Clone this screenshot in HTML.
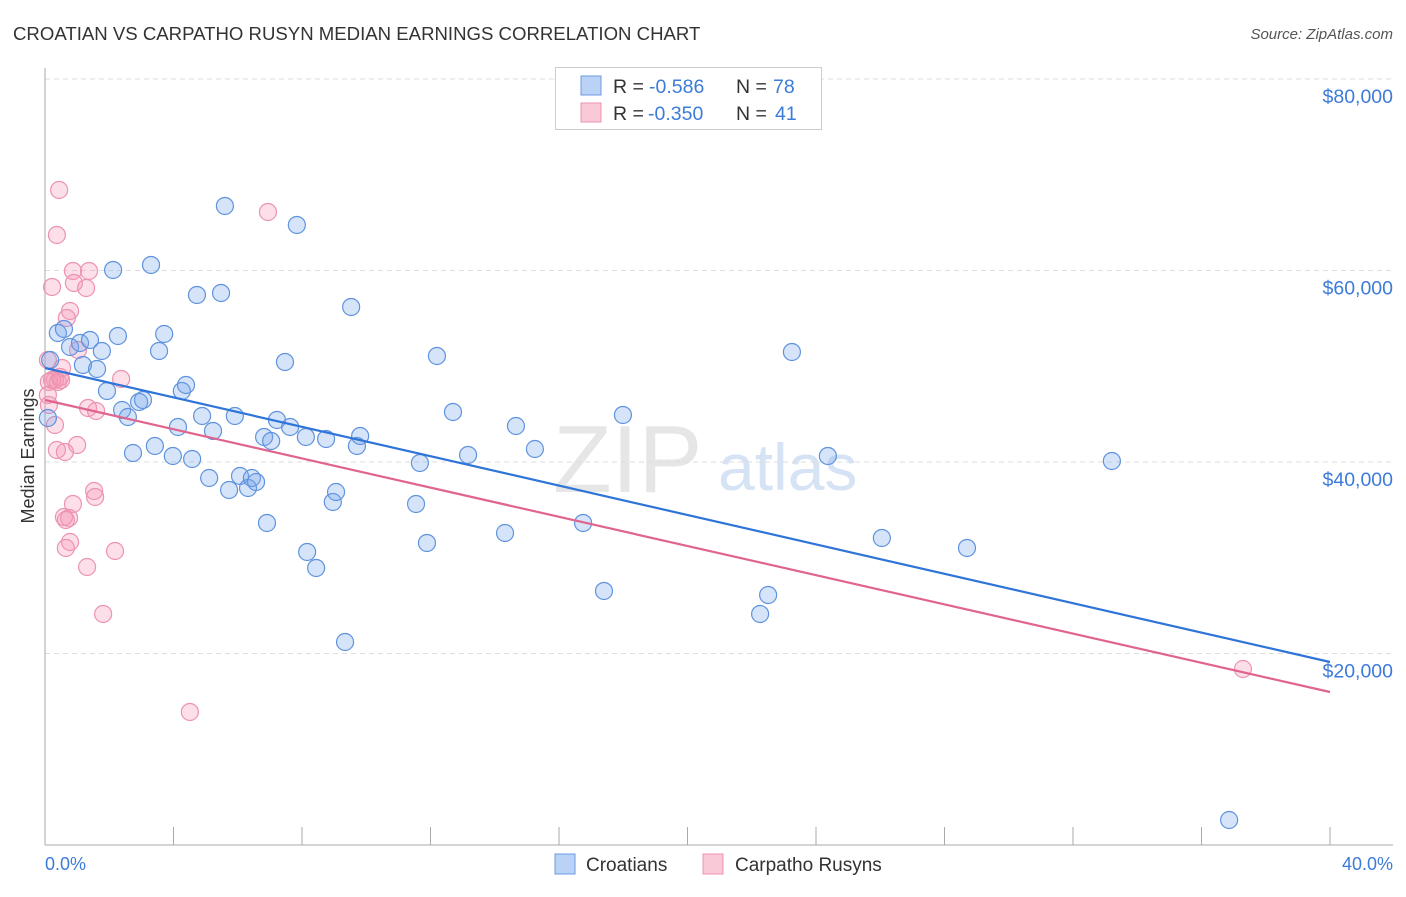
<!DOCTYPE html>
<html><head><meta charset="utf-8"><style>
body{margin:0;background:#fff;font-family:"Liberation Sans",sans-serif;}
svg text{font-family:"Liberation Sans",sans-serif;}
</style></head><body>
<svg id="chart" width="1406" height="892" xmlns="http://www.w3.org/2000/svg">
<text x="13" y="40" font-size="18.6" fill="#333">CROATIAN VS CARPATHO RUSYN MEDIAN EARNINGS CORRELATION CHART</text>
<text x="1393" y="39" font-size="15" fill="#555" font-style="italic" text-anchor="end">Source: ZipAtlas.com</text>
<g>
<text x="553" y="492" font-size="96" fill="#e6e6e6" font-family="Liberation Serif">ZIP</text>
<text x="718" y="490" font-size="66" fill="#d6e3f5">atlas</text>
</g>
<g id="grid"></g><g id="axes"></g><g id="marks"></g>
<g>
<rect x="555.5" y="67.5" width="266" height="62" fill="#fff" stroke="#ccc"/>
<rect x="581" y="76" width="20" height="19" fill="#b9d2f5" stroke="#6b9be0"/>
<rect x="581" y="103" width="20" height="19" fill="#fac9d8" stroke="#ec93b0"/>
<g font-size="19.5">
<text x="613" y="93" fill="#333">R =</text><text x="649" y="93" fill="#3d7bd9">-0.586</text>
<text x="736" y="93" fill="#333">N =</text><text x="773" y="93" fill="#3d7bd9">78</text></g>
<g font-size="19.5">
<text x="613" y="120" fill="#333">R =</text><text x="648" y="120" fill="#3d7bd9">-0.350</text>
<text x="736" y="120" fill="#333">N =</text><text x="775" y="120" fill="#3d7bd9">41</text></g>
</g>
<g>
<rect x="555" y="854" width="20" height="20" fill="#b9d2f5" stroke="#6b9be0"/>
<text x="586" y="871" font-size="19" fill="#333">Croatians</text>
<rect x="703" y="854" width="20" height="20" fill="#fac9d8" stroke="#ec93b0"/>
<text x="735" y="871" font-size="19" fill="#333">Carpatho Rusyns</text>
</g>
<text x="45" y="870" font-size="18" fill="#3d7bd9">0.0%</text>
<text x="1393" y="870" font-size="18" fill="#3d7bd9" text-anchor="end">40.0%</text>
<text transform="translate(34,456) rotate(-90)" font-size="18" fill="#333" text-anchor="middle">Median Earnings</text>
</svg>
<script>
const yTicks=[20000,40000,60000,80000];
const yTickLabels=["$20,000","$40,000","$60,000","$80,000"];
const croX=[0.40,0.59,0.78,1.09,1.18,1.62,1.77,2.12,2.27,1.93,2.40,2.58,2.93,3.05,2.74,3.30,3.55,3.71,3.42,3.98,4.14,4.26,4.39,4.58,4.73,4.89,5.11,5.23,5.48,5.60,5.73,5.91,6.07,6.32,6.44,6.57,6.82,6.91,7.04,7.22,7.47,7.63,7.84,8.12,8.16,8.44,8.75,8.96,9.06,9.34,9.53,9.71,9.81,11.55,11.67,11.89,12.20,12.70,13.17,14.32,14.66,15.25,16.75,17.40,17.99,22.26,22.51,23.25,24.37,26.05,28.70,33.21,36.86,0.16,0.09,1.40];
const croY=[53473,53891,52011,52429,50131,49713,51593,60053,53160,47416,45431,44700,46267,46476,40940,60575,51593,53369,41672,40627,43656,47416,48042,40314,57442,44805,38329,43238,57651,66737,37076,44805,38538,37285,38329,37912,42612,33630,42194,44387,50445,43656,64753,42612,30601,28930,42403,35823,36867,21201,56189,41672,42716,35614,39896,31541,51071,45223,40732,32585,43760,41358,33630,26528,44909,24126,26110,51489,40627,32063,31019,40105,2611,50653,44596,52742];
const rusX=[0.44,0.37,0.22,0.87,1.37,0.90,1.28,0.78,0.68,1.03,0.09,0.31,0.12,0.47,0.53,2.37,0.09,0.12,1.34,1.59,0.31,0.37,0.62,1.00,1.53,1.56,0.59,0.75,0.65,0.87,0.78,0.65,2.18,1.31,1.81,4.51,6.94,37.29,0.22,0.40,0.50];
const rusY=[68408,63708,58278,59949,59949,58695,58173,55771,55040,51698,50653,48565,48356,48878,49818,48669,46998,45954,45640,45327,43865,41254,41045,41776,36972,36345,34256,34152,33943,35614,31645,31019,30705,29034,24126,13891,66111,18381,48565,48356,48565];
const croTrend=[49817,19112];
const rusTrend=[46475,15979];
const trendX=[0,40];
const xTickPcts=[0,4,8,12,16,20,24,28,32,36,40];

const NS="http://www.w3.org/2000/svg";
const X0=45,X1=1330,YB=845,YPX=191.5/20000;
function sx(p){return X0+p*(X1-X0)/40;}
function sy(v){return YB-v*YPX;}
function mk(tag,attrs,parent){const e=document.createElementNS(NS,tag);for(const k in attrs)e.setAttribute(k,attrs[k]);parent.appendChild(e);return e;}
const grid=document.getElementById('grid'),axes=document.getElementById('axes'),marks=document.getElementById('marks');
yTicks.forEach((t,i)=>{
  const l=mk('line',{x1:X0,x2:1393,y1:sy(t),y2:sy(t),stroke:'#ddd','stroke-dasharray':'5,4'},grid);
  
  
  const tx=mk('text',{x:1393,y:sy(t)+24,'font-size':19.5,fill:'#3d7bd9','text-anchor':'end'},grid);
  tx.textContent=yTickLabels[i];
  
  
});
const ya=mk('line',{x1:X0,x2:X0,y1:68,y2:YB,stroke:'#aaa'},axes);


const xa=mk('line',{x1:X0,x2:1393,y1:YB,y2:YB,stroke:'#aaa'},axes);


xTickPcts.forEach(p=>{
  const t=mk('line',{x1:sx(p),x2:sx(p),y1:YB,y2:YB-18,stroke:'#aaa'},axes);
  
  
});
function dots(xs,ys,fill,stroke,name){
  xs.forEach((x,i)=>{
    const c=mk('circle',{cx:sx(x),cy:sy(ys[i]),r:8.5,fill:fill,stroke:stroke,'stroke-width':1.2},marks);
    
    
  });
}
dots(rusX,rusY,'rgba(244,150,180,0.3)','#ec93b0','rusyn-point');
dots(croX,croY,'rgba(120,165,235,0.3)','#5f93de','croatian-point');
const l1=mk('line',{x1:sx(trendX[0]),y1:sy(croTrend[0]),x2:sx(trendX[1]),y2:sy(croTrend[1]),stroke:'#2f74d8','stroke-width':2.2},marks);


const l2=mk('line',{x1:sx(trendX[0]),y1:sy(rusTrend[0]),x2:sx(trendX[1]),y2:sy(rusTrend[1]),stroke:'#e0648e','stroke-width':2.2},marks);


</script>
</body></html>
